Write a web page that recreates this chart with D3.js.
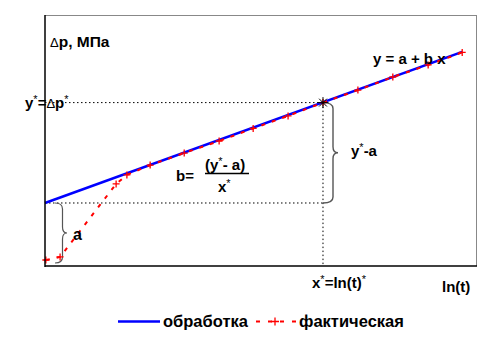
<!DOCTYPE html>
<html>
<head>
<meta charset="utf-8">
<script src="https://cdn.jsdelivr.net/npm/d3@7"></script>
<style>
  body { margin: 0; background: #fff; }
  svg { display: block; font-family: "Liberation Sans", Arial, sans-serif; }
  .lbl { font-weight: bold; font-size: 15px; fill: #000; }
  .leg { font-weight: bold; font-size: 16.5px; fill: #000; }
</style>
</head>
<body>
<svg id="chart" width="492" height="340"></svg>
<script>
"use strict";

// ln(t) values of the measured points and the pressure drop at each
var factX = [0.02, 0.35, 1.65, 1.90, 2.44, 3.23, 4.04, 4.83, 5.64, 6.45, 7.26, 8.07, 8.89, 9.68];
var factY = [0.24, 0.36, 3.27, 3.63, 4.02, 4.50, 4.98, 5.48, 5.98, 6.51, 7.01, 7.53, 8.01, 8.51];

// fitted straight line y = a + b x (ends)
var fitX = [0, 9.68];
var fitY = [2.51, 8.53];

// reference point (x*, y*) and intercept a
var starPoint = [6.45, 6.51];
var interceptA = 2.51;

var seriesNames = ["обработка", "фактическая"];

var svg = d3.select("#chart");

var x = d3.scaleLinear().domain([0, 10]).range([45, 476]);
var y = d3.scaleLinear().domain([0, 10]).range([266, 15]);

// frame: gray top/right, black left/bottom
svg.append("line").attr("x1", x(0)).attr("x2", x(10)).attr("y1", y(10) + 0.5).attr("y2", y(10) + 0.5)
  .style("stroke", "#888").style("stroke-width", 1);
svg.append("line").attr("x1", x(10) + 0.5).attr("x2", x(10) + 0.5).attr("y1", y(10)).attr("y2", y(0))
  .style("stroke", "#888").style("stroke-width", 1);

// dotted guides
var dots = svg.append("g").style("stroke", "#000").style("stroke-width", 1)
  .style("stroke-dasharray", "1.5,2.5");
dots.append("line").attr("x1", x(0)).attr("x2", x(starPoint[0]))
  .attr("y1", y(starPoint[1])).attr("y2", y(starPoint[1]));
dots.append("line").attr("x1", x(0)).attr("x2", x(starPoint[0]))
  .attr("y1", y(interceptA)).attr("y2", y(interceptA));
dots.append("line").attr("x1", x(starPoint[0])).attr("x2", x(starPoint[0]))
  .attr("y1", y(starPoint[1])).attr("y2", y(0));

// braces
function brace(x0, sx, tip, y1, y2) {
  var ym = (y1 + y2) / 2, r = 6;
  return "M" + x0 + "," + y1 +
    "Q" + sx + "," + y1 + " " + sx + "," + (y1 + r) +
    "L" + sx + "," + (ym - r) +
    "Q" + sx + "," + ym + " " + tip + "," + ym +
    "Q" + sx + "," + ym + " " + sx + "," + (ym + r) +
    "L" + sx + "," + (y2 - r) +
    "Q" + sx + "," + y2 + " " + x0 + "," + y2;
}
svg.append("path").attr("d", brace(55, 62.5, 67, y(interceptA), y(0) - 3))
  .style("fill", "none").style("stroke", "#555").style("stroke-width", 1.2);
svg.append("path").attr("d", brace(x(starPoint[0]), 333, 338, y(starPoint[1]), y(interceptA)))
  .style("fill", "none").style("stroke", "#555").style("stroke-width", 1.4);

// fitted line
var line = d3.line().x(function (d) { return x(d[0]); }).y(function (d) { return y(d[1]); });
svg.append("path").datum(d3.zip(fitX, fitY)).attr("d", line)
  .style("fill", "none").style("stroke", "#0000ff").style("stroke-width", 2.6);

// measured points: dashed red with plus markers
var fact = d3.zip(factX, factY);
svg.append("path").datum(fact).attr("d", line)
  .style("fill", "none").style("stroke", "#ff0000").style("stroke-width", 2)
  .style("stroke-dasharray", "4,7");
svg.selectAll("path.plus").data(fact).enter().append("path")
  .attr("class", "plus")
  .attr("d", function (d) {
    var cx = x(d[0]), cy = y(d[1]);
    return "M" + (cx - 3.5) + "," + cy + "H" + (cx + 3.5) + "M" + cx + "," + (cy - 3.5) + "V" + (cy + 3.5);
  })
  .style("stroke", "#ff0000").style("stroke-width", 1.3);

// axes (left and bottom black)
svg.append("line").attr("x1", x(0)).attr("x2", x(0)).attr("y1", y(10)).attr("y2", y(0) + 1)
  .style("stroke", "#000").style("stroke-width", 1.5);
svg.append("line").attr("x1", x(0)).attr("x2", x(10) + 1).attr("y1", y(0)).attr("y2", y(0))
  .style("stroke", "#000").style("stroke-width", 1.5);

// star at (x*, y*)
var sx0 = x(starPoint[0]), sy0 = y(starPoint[1]);
[0, 45, 90, 135].forEach(function (a) {
  var rad = a * Math.PI / 180;
  svg.append("line")
    .attr("x1", sx0 - 5.5 * Math.cos(rad)).attr("y1", sy0 - 5.5 * Math.sin(rad))
    .attr("x2", sx0 + 5.5 * Math.cos(rad)).attr("y2", sy0 + 5.5 * Math.sin(rad))
    .style("stroke", "#000").style("stroke-width", 1);
});

// texts
function sup(t, s) {
  t.append("tspan").text(s).attr("dy", -5).style("font-size", "11px").style("font-weight", "normal");
  return t;
}

var t1 = svg.append("text").attr("class", "lbl").attr("x", 50).attr("y", 47);
t1.append("tspan").text("Δ").style("font-weight", "normal").style("font-size", "13px");
t1.append("tspan").text("p, МПа").style("font-size", "15.5px");

var t2 = svg.append("text").attr("class", "lbl").attr("x", 25).attr("y", 108);
t2.append("tspan").text("y");
sup(t2, "*");
t2.append("tspan").text("=").attr("dy", 5);
t2.append("tspan").text("Δ").style("font-weight", "normal").style("font-size", "13px");
t2.append("tspan").text("p");
sup(t2, "*");

svg.append("text").attr("class", "lbl").attr("x", 373).attr("y", 64).text("y = a + b x");

svg.append("text").attr("class", "lbl").attr("x", 176).attr("y", 181).text("b=");
var num = svg.append("text").attr("class", "lbl").attr("x", 205).attr("y", 170);
num.append("tspan").text("(y");
sup(num, "*");
num.append("tspan").text("- a)").attr("dy", 5);
svg.append("line").attr("x1", 205).attr("x2", 249).attr("y1", 173.5).attr("y2", 173.5)
  .style("stroke", "#000").style("stroke-width", 1.5);
var den = svg.append("text").attr("class", "lbl").attr("x", 218).attr("y", 192);
den.append("tspan").text("x");
sup(den, "*");

var t3 = svg.append("text").attr("class", "lbl").attr("x", 351).attr("y", 156);
t3.append("tspan").text("y");
sup(t3, "*");
t3.append("tspan").text("-a").attr("dy", 5);

svg.append("text").attr("class", "lbl").attr("x", 73).attr("y", 240).style("font-size", "16px").text("a");

var t4 = svg.append("text").attr("class", "lbl").attr("x", 312).attr("y", 288);
t4.append("tspan").text("x");
sup(t4, "*");
t4.append("tspan").text("=ln(t)").attr("dy", 5);
sup(t4, "*");

svg.append("text").attr("class", "lbl").attr("x", 442).attr("y", 292).text("ln(t)");

// legend
var lg = svg.append("g");
lg.append("line").attr("x1", 118).attr("x2", 160).attr("y1", 321.5).attr("y2", 321.5)
  .style("stroke", "#0000ff").style("stroke-width", 2.5);
lg.append("text").attr("class", "leg").attr("x", 163).attr("y", 327).text(seriesNames[0]);
lg.append("line").attr("x1", 256).attr("x2", 297).attr("y1", 321.5).attr("y2", 321.5)
  .style("stroke", "#ff0000").style("stroke-width", 2).style("stroke-dasharray", "4,8");
lg.append("path").attr("d", "M271,321.5H279M275,317.5V325.5")
  .style("stroke", "#ff0000").style("stroke-width", 1.3);
lg.append("text").attr("class", "leg").attr("x", 299).attr("y", 327).text(seriesNames[1]);
</script>
</body>
</html>
